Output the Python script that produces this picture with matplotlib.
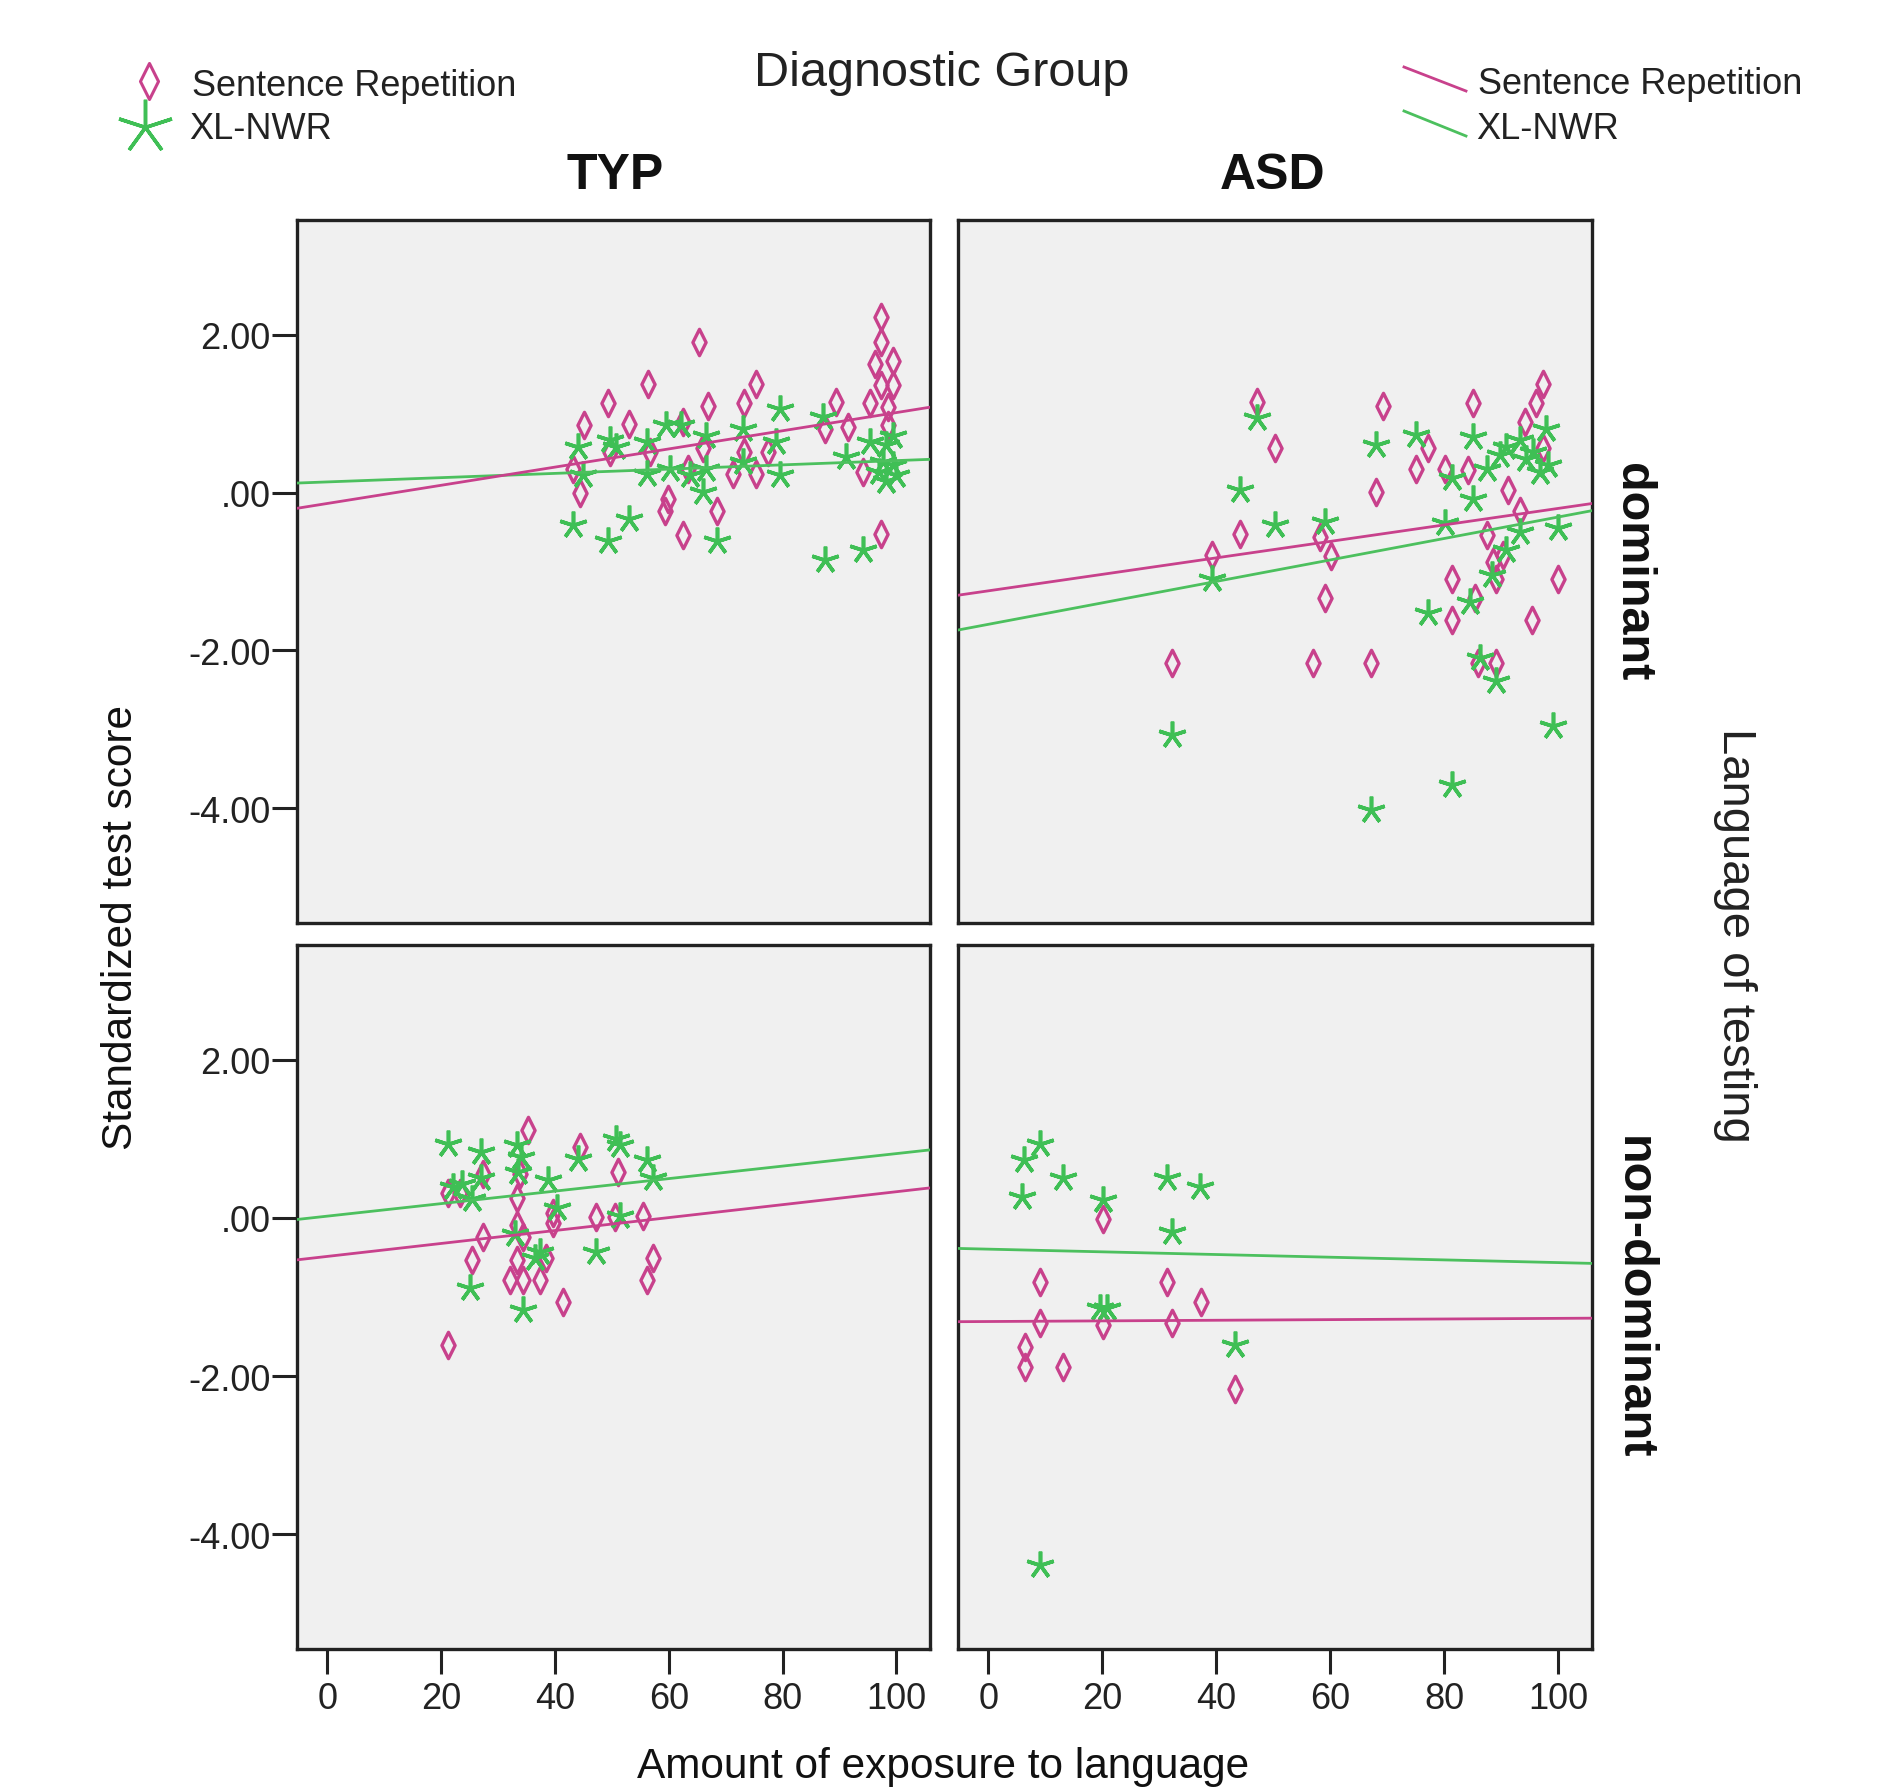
import matplotlib
matplotlib.use("Agg")
import matplotlib.pyplot as plt
import numpy as np
from matplotlib.path import Path

plt.rcParams["font.family"] = ["Liberation Sans", "DejaVu Sans"]

# ---- data ----
# TYP / dominant
typ_dom_sr_x = [97.3, 97.3, 96.2, 99.4, 97.3, 99.4, 95.3, 98.5, 98.5, 94.1, 97.3,
                89.4, 87.4, 91.5, 75.4, 73.3, 77.4, 73.3, 71.3, 75.4, 65.4, 66.9,
                68.4, 62.5, 59.3, 59.9, 53.1, 56.4, 49.3, 45.2, 44.4, 43.2, 62.5,
                66.0, 49.6, 56.7, 63.4]
typ_dom_sr_y = [2.22, 1.90, 1.63, 1.67, 1.36, 1.36, 1.13, 1.08, 0.85, 0.26, -0.52,
                1.15, 0.81, 0.83, 1.38, 1.13, 0.51, 0.51, 0.24, 0.24, 1.90, 1.10,
                -0.24, -0.54, -0.24, -0.08, 0.87, 1.38, 1.13, 0.85, -0.01, 0.30, 0.89,
                0.56, 0.51, 0.51, 0.30]
typ_dom_nwr_x = [43.2, 49.3, 53.1, 68.4, 87.4, 94.1, 44.1, 45.0, 49.6, 50.8, 56.1,
                 56.1, 59.6, 62.2, 60.2, 63.7, 66.6, 66.6, 66.0, 73.0, 79.5, 78.9,
                 79.5, 73.0, 87.1, 91.2, 95.3, 98.2, 99.4, 97.6, 99.4, 98.2, 100.0, 97.0]
typ_dom_nwr_y = [-0.41, -0.62, -0.33, -0.62, -0.86, -0.73, 0.58, 0.22, 0.66, 0.58, 0.64,
                 0.24, 0.85, 0.85, 0.30, 0.22, 0.72, 0.30, 0.01, 0.81, 1.06, 0.64,
                 0.22, 0.39, 0.96, 0.45, 0.64, 0.60, 0.72, 0.39, 0.35, 0.14, 0.22, 0.26]

# ASD / dominant
asd_dom_sr_x = [47.1, 50.3, 44.2, 39.2, 32.2, 58.2, 60.2, 59.1, 57.0, 67.2, 69.3,
                68.1, 77.2, 75.1, 80.1, 84.2, 85.1, 81.3, 81.3, 85.3, 87.4, 89.1,
                89.1, 85.9, 91.2, 93.2, 95.3, 94.1, 96.1, 97.3, 97.3, 99.9, 88.5, 90.3]
asd_dom_sr_y = [1.15, 0.56, -0.52, -0.79, -2.16, -0.56, -0.81, -1.34, -2.16, -2.16, 1.10,
                0.01, 0.56, 0.30, 0.30, 0.28, 1.13, -1.09, -1.61, -1.34, -0.54, -1.09,
                -2.16, -2.16, 0.03, -0.24, -1.61, 0.89, 1.13, 1.38, 0.56, -1.09, -0.88, -0.79]
asd_dom_nwr_x = [47.1, 44.2, 50.3, 59.1, 39.2, 32.2, 68.1, 75.1, 85.1, 85.1, 80.1,
                 87.4, 81.3, 77.2, 84.5, 86.2, 89.1, 99.1, 81.3, 67.2, 90.9, 88.3,
                 93.2, 99.9, 90.9, 93.2, 95.6, 97.9, 96.7, 94.4, 98.2, 89.7]
asd_dom_nwr_y = [0.94, 0.03, -0.41, -0.37, -1.09, -3.07, 0.60, 0.73, 0.70, -0.08, -0.39,
                 0.30, 0.18, -1.53, -1.38, -2.10, -2.39, -2.96, -3.70, -4.02, -0.73, -1.05,
                 -0.50, -0.45, 0.58, 0.66, 0.51, 0.81, 0.26, 0.43, 0.35, 0.47]

# TYP / non-dominant
typ_non_sr_x = [21.3, 35.3, 44.4, 51.1, 27.4, 25.4, 34.4, 33.3, 32.1, 34.4, 37.4,
                38.5, 41.5, 47.3, 50.5, 55.5, 57.3, 56.1, 21.3, 23.3, 27.4, 33.3,
                33.8, 39.7, 39.7, 33.3]
typ_non_sr_y = [-1.61, 1.11, 0.90, 0.58, -0.24, -0.53, -0.24, -0.53, -0.79, -0.79, -0.79,
                -0.51, -1.06, 0.01, 0.01, 0.03, -0.51, -0.79, 0.31, 0.31, 0.56, 0.25,
                0.56, 0.06, -0.07, -0.09]
typ_non_nwr_x = [21.3, 27.1, 33.3, 34.1, 50.8, 51.4, 44.1, 56.1, 57.3, 22.1, 23.6,
                 25.4, 27.1, 33.5, 38.8, 40.3, 47.3, 25.1, 34.4, 36.5, 33.0, 37.4, 51.4]
typ_non_nwr_y = [0.94, 0.83, 0.92, 0.77, 1.00, 0.92, 0.75, 0.73, 0.50, 0.39, 0.43,
                 0.24, 0.50, 0.58, 0.48, 0.12, -0.43, -0.89, -1.17, -0.51, -0.20, -0.43, 0.03]

# ASD / non-dominant
asd_non_sr_x = [20.2, 9.1, 31.3, 37.4, 9.1, 20.2, 32.2, 6.5, 6.5, 13.2, 43.3]
asd_non_sr_y = [-0.01, -0.81, -0.81, -1.06, -1.33, -1.36, -1.33, -1.63, -1.88, -1.88, -2.16]
asd_non_nwr_x = [9.1, 6.2, 5.9, 13.2, 20.2, 31.3, 37.2, 32.2, 19.6, 20.8, 43.3, 9.1]
asd_non_nwr_y = [0.94, 0.73, 0.27, 0.50, 0.22, 0.50, 0.39, -0.18, -1.14, -1.14, -1.61, -4.39]

# fit lines: (intercept, slope) per panel, [SR, NWR]
fit_typ_dom = [(-0.139, 0.01151), (0.134, 0.0027)]
fit_asd_dom = [(-1.245, 0.01044), (-1.669, 0.01359)]
fit_typ_non = [(-0.487, 0.00818), (0.022, 0.00791)]
fit_asd_non = [(-1.31, 0.0004), (-0.395, -0.0017)]

groups = ["TYP", "ASD"]
languages = ["dominant", "non-dominant"]
x_ticks = [0, 20, 40, 60, 80, 100]
y_ticks = [-4, -2, 0, 2]
y_ticklabels = ["-4.00", "-2.00", ".00", "2.00"]

PINK = "#c8418c"
GREEN = "#3fbf55"
LINE_GREEN = "#4cc05e"
BG = "#f0f0f0"
TXT = "#222222"

diamond = Path([(0, 1), (0.5, 0), (0, -1), (-0.5, 0), (0, 1)],
               [Path.MOVETO, Path.LINETO, Path.LINETO, Path.LINETO, Path.CLOSEPOLY])
star = (5, 2, 0)

W, H = 1880, 1790
fig = plt.figure(figsize=(W / 100, H / 100), dpi=100)

positions = {
    (0, 0): [297 / W, 1 - 924 / H, 633 / W, 703 / H],
    (0, 1): [958 / W, 1 - 924 / H, 634 / W, 703 / H],
    (1, 0): [297 / W, 1 - 1650 / H, 633 / W, 704 / H],
    (1, 1): [958 / W, 1 - 1650 / H, 634 / W, 704 / H],
}
panels = {
    (0, 0): (typ_dom_sr_x, typ_dom_sr_y, typ_dom_nwr_x, typ_dom_nwr_y, fit_typ_dom),
    (0, 1): (asd_dom_sr_x, asd_dom_sr_y, asd_dom_nwr_x, asd_dom_nwr_y, fit_asd_dom),
    (1, 0): (typ_non_sr_x, typ_non_sr_y, typ_non_nwr_x, typ_non_nwr_y, fit_typ_non),
    (1, 1): (asd_non_sr_x, asd_non_sr_y, asd_non_nwr_x, asd_non_nwr_y, fit_asd_non),
}

XLIM = (-5.3, 105.9)
YLIM = (-5.45, 3.45)

for (r, c), (sx, sy, nx, ny, fits) in panels.items():
    ax = fig.add_axes(positions[(r, c)])
    ax.set_facecolor(BG)
    ax.plot(sx, sy, linestyle="none", marker=diamond, markersize=19,
            markerfacecolor="none", markeredgecolor=PINK, markeredgewidth=2.4, zorder=3)
    ax.plot(nx, ny, linestyle="none", marker=star, markersize=20,
            markeredgecolor=GREEN, markerfacecolor=GREEN, markeredgewidth=2.6, zorder=4)
    xs = np.array(XLIM)
    (a_sr, b_sr), (a_nw, b_nw) = fits
    ax.plot(xs, a_nw + b_nw * xs, color=LINE_GREEN, linewidth=2.0, zorder=5)
    ax.plot(xs, a_sr + b_sr * xs, color=PINK, linewidth=2.0, zorder=6)
    ax.set_xlim(*XLIM)
    ax.set_ylim(*YLIM)
    for sp in ax.spines.values():
        sp.set_linewidth(2.4)
        sp.set_color(TXT)
    ax.tick_params(direction="out", length=18, width=2.2, colors=TXT,
                   labelsize=26, labelcolor=TXT)
    if c == 0:
        ax.set_yticks(y_ticks)
        ax.set_yticklabels(y_ticklabels)
        ax.tick_params(axis="y", pad=1)
    else:
        ax.set_yticks([])
    if r == 1:
        ax.set_xticks(x_ticks)
        ax.set_xticklabels([str(t) for t in x_ticks])
        ax.tick_params(axis="x", pad=5)
    else:
        ax.set_xticks([])

# ---- titles and labels ----
fig.text(942 / W, 1 - 74 / H, "Diagnostic Group", fontsize=35, ha="center", va="center",
         color=TXT)
fig.text(615 / W, 1 - 176 / H, groups[0], fontsize=36, fontweight="bold",
         ha="center", va="center", color="#111111")
fig.text(1273 / W, 1 - 176 / H, groups[1], fontsize=36, fontweight="bold",
         ha="center", va="center", color="#111111")
fig.text(1633 / W, 1 - 572 / H, languages[0], fontsize=35, fontweight="bold",
         ha="center", va="center", rotation=-90, color="#111111")
fig.text(1633 / W, 1 - 1298 / H, languages[1], fontsize=35, fontweight="bold",
         ha="center", va="center", rotation=-90, color="#111111")
fig.text(1735 / W, 1 - 935 / H, "Language of testing", fontsize=34,
         ha="center", va="center", rotation=-90, color=TXT)
fig.text(121 / W, 1 - 928 / H, "Standardized test score", fontsize=30.5,
         ha="center", va="center", rotation=90, color="#111111")
fig.text(943 / W, 1 - 1778 / H, "Amount of exposure to language", fontsize=30.5,
         ha="center", va="baseline", color="#111111")

# ---- legends ----
leg = fig.add_axes([0, 0, 1, 1])
leg.set_xlim(0, W)
leg.set_ylim(H, 0)
leg.axis("off")
leg.plot([149], [82], linestyle="none", marker=diamond, markersize=26,
         markerfacecolor="none", markeredgecolor=PINK, markeredgewidth=2.2)
leg.plot([145], [128], linestyle="none", marker=star, markersize=40,
         markeredgecolor=GREEN, markeredgewidth=2.5)
leg.text(192, 86, "Sentence Repetition", fontsize=26, va="center", ha="left", color=TXT)
leg.text(189, 129, "XL-NWR", fontsize=26, va="center", ha="left", color=TXT)
leg.plot([1404, 1466], [68, 92], color=PINK, linewidth=2.0)
leg.plot([1404, 1466], [112, 137], color=LINE_GREEN, linewidth=2.0)
leg.text(1478, 84, "Sentence Repetition", fontsize=26, va="center", ha="left", color=TXT)
leg.text(1476, 129, "XL-NWR", fontsize=26, va="center", ha="left", color=TXT)

fig.savefig("out.png", dpi=100, facecolor="white")
